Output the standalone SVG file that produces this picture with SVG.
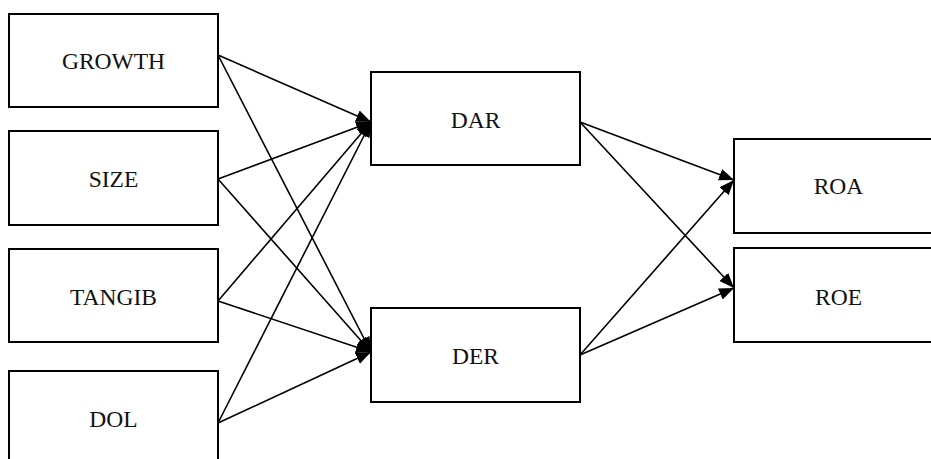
<svg xmlns="http://www.w3.org/2000/svg" width="931" height="459" viewBox="0 0 931 459">
<style>
.box{fill:#fff;stroke:#000;stroke-width:2}
.lbl{font-family:"Liberation Serif","Times New Roman",serif;font-size:23.5px;fill:#111;text-anchor:middle}
.edge{stroke:#000;stroke-width:1.6;fill:none;marker-end:url(#ah)}
</style>
<defs>
<marker id="ah" markerUnits="userSpaceOnUse" markerWidth="16" markerHeight="13" refX="15" refY="6" orient="auto">
<path d="M0,0 L15,6 L0,12 z" fill="#000"/>
</marker>
</defs>
<rect width="931" height="459" fill="#fff"/>
<g id="connectors">
<line class="edge" x1="218" y1="55" x2="371" y2="122"/>
<line class="edge" x1="218" y1="55" x2="371" y2="352"/>
<line class="edge" x1="218" y1="179" x2="371" y2="122"/>
<line class="edge" x1="218" y1="179" x2="371" y2="352"/>
<line class="edge" x1="218" y1="301" x2="371" y2="122"/>
<line class="edge" x1="218" y1="301" x2="371" y2="352"/>
<line class="edge" x1="218" y1="423" x2="371" y2="122"/>
<line class="edge" x1="218" y1="423" x2="371" y2="352"/>
<line class="edge" x1="580" y1="122" x2="734" y2="180"/>
<line class="edge" x1="580" y1="122" x2="734" y2="288"/>
<line class="edge" x1="580" y1="355" x2="734" y2="180"/>
<line class="edge" x1="580" y1="355" x2="734" y2="288"/>
</g>
<g id="growth"><rect class="box" x="9" y="14" width="209" height="93"/><text class="lbl" x="113.5" y="69">GROWTH</text></g>
<g id="size"><rect class="box" x="9" y="131" width="209" height="94"/><text class="lbl" x="113.5" y="187">SIZE</text></g>
<g id="tangib"><rect class="box" x="9" y="249" width="209" height="93"/><text class="lbl" x="113.5" y="305">TANGIB</text></g>
<g id="dol"><rect class="box" x="9" y="371" width="209" height="94"/><text class="lbl" x="113.5" y="427">DOL</text></g>
<g id="dar"><rect class="box" x="371" y="72" width="209" height="93"/><text class="lbl" x="475.5" y="128">DAR</text></g>
<g id="der"><rect class="box" x="371" y="308" width="209" height="94"/><text class="lbl" x="475.5" y="364">DER</text></g>
<g id="roa"><rect class="box" x="734" y="139" width="209" height="94"/><text class="lbl" x="838.5" y="194">ROA</text></g>
<g id="roe"><rect class="box" x="734" y="248" width="209" height="94"/><text class="lbl" x="838.5" y="305">ROE</text></g>
</svg>
